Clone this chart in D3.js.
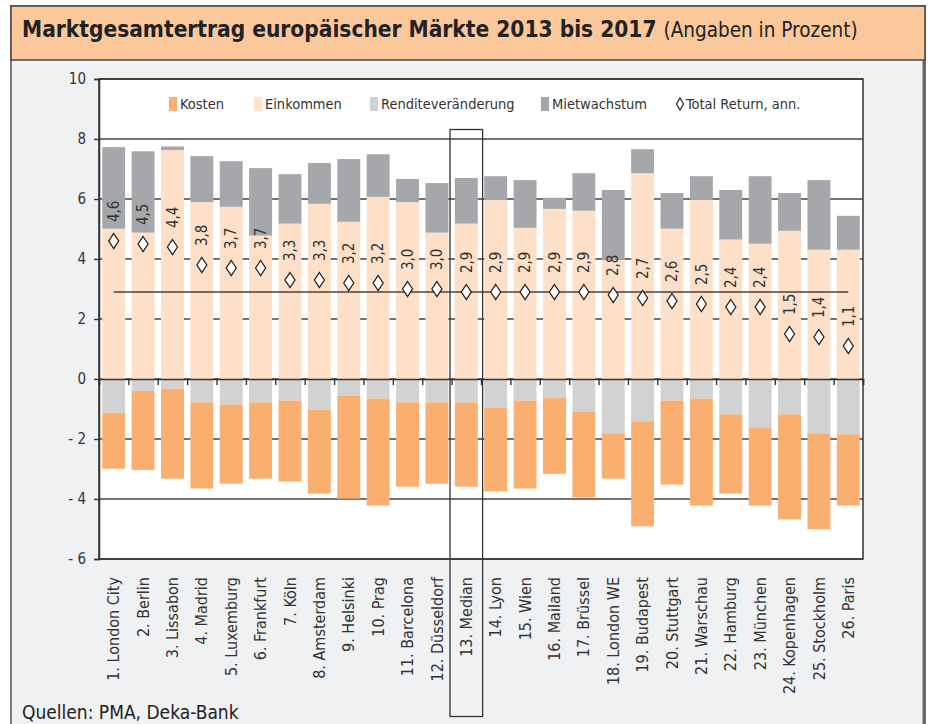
<!DOCTYPE html>
<html lang="de">
<head>
<meta charset="utf-8">
<title>Marktgesamtertrag europäischer Märkte 2013 bis 2017</title>
<script src="https://d3js.org/d3.v7.min.js"></script>
<style>
  body { margin: 0; background: #fff; }
  svg { display: block; font-family: "DejaVu Sans Condensed", "DejaVu Sans", sans-serif; }
</style>
</head>
<body>
<script>
// --- data ---
const cities = ["1. London City", "2. Berlin", "3. Lissabon", "4. Madrid", "5. Luxemburg",
  "6. Frankfurt", "7. Köln", "8. Amsterdam", "9. Helsinki", "10. Prag", "11. Barcelona",
  "12. Düsseldorf", "13. Median", "14. Lyon", "15. Wien", "16. Mailand", "17. Brüssel",
  "18. London WE", "19. Budapest", "20. Stuttgart", "21. Warschau", "22. Hamburg",
  "23. München", "24. Kopenhagen", "25. Stockholm", "26. Paris"];
const einkommen = [5.01, 4.88, 7.63, 5.90, 5.74, 4.78, 5.18, 5.84, 5.24, 6.07, 5.90, 4.88, 5.18,
  5.97, 5.04, 5.67, 5.61, 3.98, 6.86, 5.01, 5.97, 4.65, 4.51, 4.94, 4.31, 4.31];
const mietwachstum = [2.72, 2.71, 0.12, 1.53, 1.52, 2.25, 1.65, 1.36, 2.09, 1.42, 0.77, 1.65, 1.52,
  0.79, 1.59, 0.37, 1.25, 2.32, 0.80, 1.19, 0.79, 1.65, 2.25, 1.26, 2.32, 1.13];
const renditeveraenderung = [-1.12, -0.39, -0.32, -0.78, -0.85, -0.78, -0.72, -1.02, -0.55, -0.65,
  -0.78, -0.78, -0.78, -0.95, -0.72, -0.62, -1.08, -1.81, -1.41, -0.72, -0.65, -1.18, -1.61,
  -1.18, -1.81, -1.84];
const kosten = [-1.87, -2.64, -3.00, -2.87, -2.64, -2.54, -2.70, -2.80, -3.44, -3.57, -2.81, -2.71,
  -2.81, -2.80, -2.93, -2.54, -2.87, -1.51, -3.50, -2.80, -3.57, -2.64, -2.61, -3.50, -3.20, -2.38];
const totalReturn = [4.6, 4.5, 4.4, 3.8, 3.7, 3.7, 3.3, 3.3, 3.2, 3.2, 3.0, 3.0, 2.9, 2.9, 2.9, 2.9,
  2.9, 2.8, 2.7, 2.6, 2.5, 2.4, 2.4, 1.5, 1.4, 1.1];
const median = 2.9;
const yTicks = [-6, -4, -2, 0, 2, 4, 6, 8, 10];

const width = 929, height = 724;
const plot = {left: 99, right: 863, top: 79, bottom: 559};

const colors = {
  "Kosten": "#f9af6f",
  "Einkommen": "#fde0c7",
  "Renditeveränderung": "#d1d2d4",
  "Mietwachstum": "#a6a7aa"
};

const table = cities.map((c, i) => ({
  city: c,
  "Einkommen": einkommen[i],
  "Mietwachstum": mietwachstum[i],
  "Renditeveränderung": renditeveraenderung[i],
  "Kosten": kosten[i],
  tr: totalReturn[i]
}));

const keys = ["Einkommen", "Mietwachstum", "Renditeveränderung", "Kosten"];
const series = d3.stack().keys(keys).offset(d3.stackOffsetDiverging)(table);

const x = d3.scaleBand()
  .domain(cities)
  .range([plot.left, plot.right])
  .paddingInner(0.22)
  .paddingOuter(0.11);
const y = d3.scaleLinear().domain([-6, 10]).range([plot.bottom, plot.top]);
const cx = d => x(d) + x.bandwidth() / 2;
const comma = v => v.toFixed(1).replace(".", ",");

const svg = d3.select("body").append("svg")
  .attr("width", width)
  .attr("height", height);

// frame
svg.append("rect")
  .attr("x", 11).attr("y", 6).attr("width", 914).attr("height", 740)
  .attr("fill", "#f0f1f3").attr("stroke", "#555").attr("stroke-width", 1.5);
svg.append("line")
  .attr("x1", 924).attr("x2", 924).attr("y1", 6).attr("y2", height)
  .attr("stroke", "#666").attr("stroke-width", 3);
svg.append("rect")
  .attr("x", 11).attr("y", 6).attr("width", 914).attr("height", 54)
  .attr("fill", "#fbc89c").attr("stroke", "#444").attr("stroke-width", 1.5);

const title = svg.append("text")
  .attr("x", 22).attr("y", 37)
  .attr("fill", "#222");
title.append("tspan").attr("font-weight", "bold").attr("font-size", "22.5px")
  .text("Marktgesamtertrag europäischer Märkte 2013 bis 2017");
title.append("tspan").attr("font-size", "20.5px").attr("dx", 7)
  .text("(Angaben in Prozent)");

// plot background
svg.append("rect")
  .attr("x", plot.left).attr("y", plot.top)
  .attr("width", plot.right - plot.left).attr("height", plot.bottom - plot.top)
  .attr("fill", "#fff");

// gridlines (behind bars)
svg.append("g")
  .selectAll("line")
  .data(yTicks)
  .join("line")
  .attr("x1", plot.left).attr("x2", plot.right)
  .attr("y1", d => y(d)).attr("y2", d => y(d))
  .attr("stroke", "#444").attr("stroke-width", 1.4);

// stacked bars
svg.append("g")
  .selectAll("g")
  .data(series)
  .join("g")
  .attr("fill", s => colors[s.key])
  .selectAll("rect")
  .data(s => s)
  .join("rect")
  .attr("x", d => x(d.data.city))
  .attr("width", x.bandwidth())
  .attr("y", d => y(Math.max(d[0], d[1])))
  .attr("height", d => Math.abs(y(d[0]) - y(d[1])));

// y axis
const yAxis = svg.append("g")
  .attr("transform", `translate(${plot.left},0)`)
  .call(d3.axisLeft(y).tickValues(yTicks).tickSize(5).tickPadding(8)
    .tickFormat(d => d < 0 ? "- " + Math.abs(d) : d));
yAxis.select(".domain").attr("stroke", "#333").attr("stroke-width", 1.5);
yAxis.selectAll(".tick line").attr("stroke", "#333").attr("stroke-width", 1.4);
yAxis.selectAll("text").attr("font-size", "15px").attr("fill", "#333")
  .attr("font-family", "'DejaVu Sans Condensed', sans-serif");

// plot border lines
svg.append("rect")
  .attr("x", plot.left).attr("y", plot.top)
  .attr("width", plot.right - plot.left).attr("height", plot.bottom - plot.top)
  .attr("fill", "none").attr("stroke", "#333").attr("stroke-width", 1.5);

// zero line with category boundary ticks
const boundary = d3.scaleLinear().domain([0, cities.length]).range([plot.left, plot.right]);
const xAxis = svg.append("g")
  .attr("transform", `translate(0,${y(0)})`)
  .call(d3.axisBottom(boundary).tickValues(d3.range(0, cities.length + 1)).tickSize(6).tickFormat(""));
xAxis.select(".domain").attr("stroke", "#333").attr("stroke-width", 1.5);
xAxis.selectAll(".tick line").attr("stroke", "#333").attr("stroke-width", 1.4);

// category labels
svg.append("g")
  .selectAll("text")
  .data(cities)
  .join("text")
  .attr("transform", d => `translate(${cx(d)},${plot.bottom + 18}) rotate(-90)`)
  .attr("text-anchor", "end")
  .attr("dy", "0.35em")
  .attr("font-size", "16px")
  .attr("fill", "#333")
  .text(d => d);

// median line
svg.append("line")
  .attr("x1", cx(cities[0])).attr("x2", cx(cities[cities.length - 1]))
  .attr("y1", y(median)).attr("y2", y(median))
  .attr("stroke", "#444").attr("stroke-width", 1.5);

// total return diamonds
svg.append("g")
  .selectAll("path")
  .data(table)
  .join("path")
  .attr("transform", d => `translate(${cx(d.city)},${y(d.tr)})`)
  .attr("d", "M0,-7.5L5,0L0,7.5L-5,0Z")
  .attr("fill", "#fff").attr("stroke", "#222").attr("stroke-width", 1.3);

// value labels
svg.append("g")
  .selectAll("text")
  .data(table)
  .join("text")
  .attr("transform", d => `translate(${cx(d.city)},${y(d.tr) - 19}) rotate(-90)`)
  .attr("text-anchor", "start")
  .attr("dy", "0.35em")
  .attr("font-size", "15px")
  .attr("fill", "#333")
  .text(d => comma(d.tr));

// median box
const mc = cx("13. Median");
svg.append("rect")
  .attr("x", mc - 16.3).attr("y", 129.5)
  .attr("width", 32.6).attr("height", 587)
  .attr("fill", "none").attr("stroke", "#333").attr("stroke-width", 1.3);

// legend
const legendItems = [
  {label: "Kosten", x: 169},
  {label: "Einkommen", x: 254},
  {label: "Renditeveränderung", x: 370},
  {label: "Mietwachstum", x: 541}
];
const legend = svg.append("g").attr("transform", "translate(0,104)");
const li = legend.selectAll("g").data(legendItems).join("g")
  .attr("transform", d => `translate(${d.x},0)`);
li.append("rect").attr("x", 0).attr("y", -7).attr("width", 8).attr("height", 14)
  .attr("fill", d => colors[d.label]);
li.append("text").attr("x", 11).attr("dy", "0.35em")
  .attr("font-size", "14.5px").attr("fill", "#333").text(d => d.label);
const ld = legend.append("g").attr("transform", "translate(680,0)");
ld.append("path").attr("d", "M0,-6L3.5,0L0,6L-3.5,0Z")
  .attr("fill", "#fff").attr("stroke", "#222").attr("stroke-width", 1.2);
ld.append("text").attr("x", 6).attr("dy", "0.35em")
  .attr("font-size", "14.5px").attr("fill", "#333").text("Total Return, ann.");

// source
svg.append("text")
  .attr("x", 22).attr("y", 719)
  .attr("font-size", "19px").attr("fill", "#222")
  .text("Quellen: PMA, Deka-Bank");
</script>
</body>
</html>
